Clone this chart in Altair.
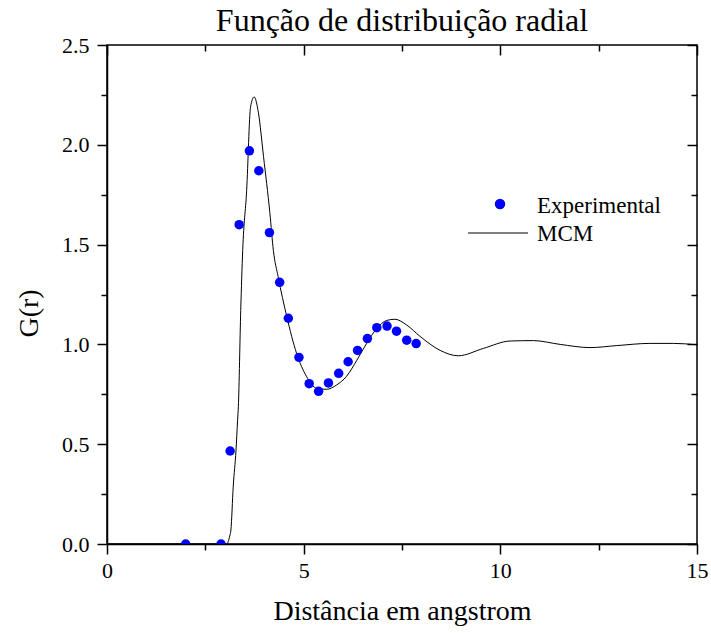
import altair as alt
import pandas as pd

# Experimental points
exp_r = [2.0, 2.9, 3.13, 3.36, 3.62, 3.86, 4.13, 4.39, 4.61, 4.88, 5.14, 5.38,
         5.63, 5.89, 6.13, 6.37, 6.62, 6.86, 7.12, 7.36, 7.62, 7.86]
exp_g = [0.0, 0.0, 0.466, 1.60, 1.97, 1.87, 1.56, 1.311, 1.131, 0.935, 0.803, 0.765,
         0.807, 0.855, 0.913, 0.970, 1.029, 1.084, 1.092, 1.066, 1.021, 1.004]

# MCM curve
mcm_r = [0.0, 3.0, 3.04, 3.12, 3.15, 3.21, 3.28, 3.32, 3.34, 3.40, 3.45, 3.55,
         3.65, 3.74, 3.85, 3.98, 4.14, 4.23, 4.35, 4.57, 4.82, 5.07, 5.33, 5.58,
         5.84, 6.09, 6.35, 6.60, 6.86, 7.11, 7.32, 7.62, 7.96, 8.47, 8.93, 9.57,
         10.25, 10.84, 11.52, 12.28, 12.96, 13.8, 14.4, 15.0]
mcm_g = [0.0, 0.0, 0.0, 0.04, 0.07, 0.29, 0.47, 0.62, 0.69, 1.17, 1.47, 1.77,
         2.19, 2.24, 2.16, 1.94, 1.66, 1.47, 1.34, 1.14, 0.955, 0.84, 0.78, 0.775,
         0.797, 0.84, 0.92, 1.005, 1.08, 1.12, 1.126, 1.097, 1.04, 0.97, 0.943, 0.98,
         1.017, 1.019, 1.0, 0.984, 0.994, 1.005, 1.005, 0.998]

x_major = [0, 5, 10, 15]
x_minor = [2.5, 7.5, 12.5]
y_major = [0, 0.5, 1.0, 1.5, 2.0, 2.5]
y_minor = [0.25, 0.75, 1.25, 1.75, 2.25]
legend_labels = ["Experimental", "MCM"]

exp_df = pd.DataFrame({"r": exp_r, "g": exp_g})
mcm_df = pd.DataFrame({"r": mcm_r, "g": mcm_g})

FONT = "Liberation Serif"
MAJ, MIN = 10, 6
xscale = alt.Scale(domain=[0, 15], nice=False, zero=False)
yscale = alt.Scale(domain=[0, 2.5], nice=False, zero=False)

x_axis = alt.Axis(
    values=x_major, orient="bottom", grid=False, format="d", labelFlush=False,
    tickSize=MAJ, labelPadding=6, title="Distância em angstrom", titlePadding=16,
)
y_axis = alt.Axis(
    values=y_major, orient="left", grid=False, format=".1f", labelFlush=False,
    tickSize=MAJ, labelPadding=8, title="G(r)", titlePadding=18, titleY=268,
)

line = alt.Chart(mcm_df).mark_line(color="black", strokeWidth=1, clip=True,
                                   interpolate="monotone").encode(
    x=alt.X("r:Q", scale=xscale, axis=x_axis),
    y=alt.Y("g:Q", scale=yscale, axis=y_axis),
)

points = alt.Chart(exp_df).mark_circle(color="#0000ff", opacity=1, size=90, clip=True).encode(
    x=alt.X("r:Q", scale=xscale, axis=None),
    y=alt.Y("g:Q", scale=yscale, axis=None),
)


def tick_layer(xo, yo, xv, yv, size, offset):
    return alt.Chart(mcm_df).mark_point(opacity=0).encode(
        x=alt.X("r:Q", scale=xscale, axis=alt.Axis(
            values=xv, orient=xo, labels=False, domain=False, grid=False,
            tickSize=size, offset=offset, title=None)),
        y=alt.Y("g:Q", scale=yscale, axis=alt.Axis(
            values=yv, orient=yo, labels=False, domain=False, grid=False,
            tickSize=size, offset=offset, title=None)),
    )


minor_bl = tick_layer("bottom", "left", x_minor, y_minor, MIN, 0)
major_tr = tick_layer("top", "right", x_major, y_major, MAJ, -MAJ)
minor_tr = tick_layer("top", "right", x_minor, y_minor, MIN, -MIN)

leg_pt = alt.Chart(pd.DataFrame({"label": [legend_labels[0]]})).mark_circle(
    color="#0000ff", opacity=1, size=110).encode(x=alt.value(393), y=alt.value(159))
leg_line = alt.Chart(pd.DataFrame({"label": [legend_labels[1]]})).mark_rule(
    color="black", strokeWidth=1).encode(x=alt.value(361), x2=alt.value(421), y=alt.value(188))
leg_txt1 = alt.Chart(pd.DataFrame({"label": [legend_labels[0]]})).mark_text(
    font=FONT, fontSize=23, align="left", baseline="middle", color="black").encode(
    x=alt.value(430), y=alt.value(161), text="label:N")
leg_txt2 = alt.Chart(pd.DataFrame({"label": [legend_labels[1]]})).mark_text(
    font=FONT, fontSize=23, align="left", baseline="middle", color="black").encode(
    x=alt.value(430), y=alt.value(189), text="label:N")

chart = alt.layer(line, points, minor_bl, major_tr, minor_tr,
                  leg_pt, leg_line, leg_txt1, leg_txt2).resolve_axis(
    x="independent", y="independent"
).properties(
    width=590, height=499,
    title=alt.Title("Função de distribuição radial", font=FONT, fontSize=32,
                    fontWeight="normal", color="black", anchor="middle", offset=-4),
    autosize=alt.AutoSizeParams(type="none"),
    padding={"left": 107, "top": 45, "right": 14, "bottom": 89},
    background="white",
).configure_view(
    stroke="black", strokeWidth=1.5
).configure_axis(
    labelFont=FONT, labelFontSize=22, labelColor="black",
    titleFont=FONT, titleFontSize=28, titleFontWeight="normal", titleColor="black",
    domainColor="black", domainWidth=1.5, tickColor="black", tickWidth=1.5,
)

chart.save("out.html", embed_options={"renderer": "svg", "actions": False})
